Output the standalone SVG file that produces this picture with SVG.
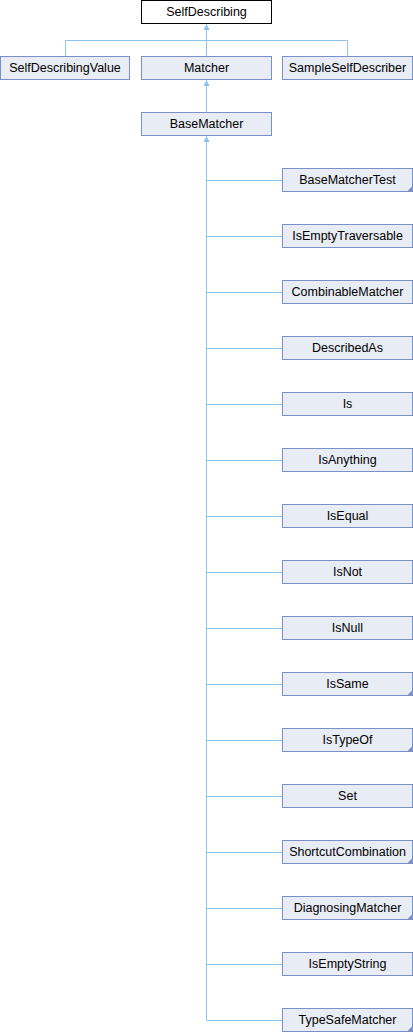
<svg xmlns="http://www.w3.org/2000/svg" width="413" height="1032" viewBox="0 0 413 1032">
<defs>
<style>
.box{fill:#e8ecf5;stroke:#7a90c8;stroke-width:1}
.root{fill:#ffffff;stroke:#000000;stroke-width:1}
.lbl{font-family:"Liberation Sans",Arial,sans-serif;font-size:12.5px;fill:#000;text-anchor:middle}
.edge{fill:none;stroke:#8cc4ea;stroke-width:1}
.arr{fill:#8cc4ea;stroke:none}
.corner{fill:#7a90c8;stroke:none}
</style>
</defs>
<rect width="413" height="1032" fill="#ffffff"/>
<g id="connectors">
<path class="edge" d="M206.5,24 V56.5 M65.5,56.5 V40.5 H347.5 V56.5"/>
<polygon class="arr" points="206.5,24 203.5,30 209.5,30"/>
<path class="edge" d="M206.5,80 V112.5"/>
<polygon class="arr" points="206.5,80 203.5,86 209.5,86"/>
<path class="edge" d="M206.5,136 V1020.5 M206.5,180.5 H282.5 M206.5,236.5 H282.5 M206.5,292.5 H282.5 M206.5,348.5 H282.5 M206.5,404.5 H282.5 M206.5,460.5 H282.5 M206.5,516.5 H282.5 M206.5,572.5 H282.5 M206.5,628.5 H282.5 M206.5,684.5 H282.5 M206.5,740.5 H282.5 M206.5,796.5 H282.5 M206.5,852.5 H282.5 M206.5,908.5 H282.5 M206.5,964.5 H282.5 M206.5,1020.5 H282.5"/>
<polygon class="arr" points="206.5,136 203.5,142 209.5,142"/>
</g>
<g id="SelfDescribing"><rect class="root" x="141.5" y="0.5" width="130" height="23"/><text class="lbl" x="206.5" y="16">SelfDescribing</text></g>
<g id="SelfDescribingValue"><rect class="box" x="0.5" y="56.5" width="129" height="23"/><text class="lbl" x="65" y="72">SelfDescribingValue</text></g>
<g id="Matcher"><rect class="box" x="141.5" y="56.5" width="130" height="23"/><text class="lbl" x="206.5" y="72">Matcher</text></g>
<g id="SampleSelfDescriber"><rect class="box" x="282.5" y="56.5" width="130" height="23"/><text class="lbl" x="347.5" y="72">SampleSelfDescriber</text></g>
<g id="BaseMatcher"><rect class="box" x="141.5" y="112.5" width="130" height="23"/><text class="lbl" x="206.5" y="128">BaseMatcher</text></g>
<g id="BaseMatcherTest"><rect class="box" x="282.5" y="168.5" width="130" height="23"/><text class="lbl" x="347.5" y="184">BaseMatcherTest</text><polygon class="corner" points="407,191.5 412.5,191.5 412.5,186"/></g>
<g id="IsEmptyTraversable"><rect class="box" x="282.5" y="224.5" width="130" height="23"/><text class="lbl" x="347.5" y="240">IsEmptyTraversable</text></g>
<g id="CombinableMatcher"><rect class="box" x="282.5" y="280.5" width="130" height="23"/><text class="lbl" x="347.5" y="296">CombinableMatcher</text></g>
<g id="DescribedAs"><rect class="box" x="282.5" y="336.5" width="130" height="23"/><text class="lbl" x="347.5" y="352">DescribedAs</text></g>
<g id="Is"><rect class="box" x="282.5" y="392.5" width="130" height="23"/><text class="lbl" x="347.5" y="408">Is</text></g>
<g id="IsAnything"><rect class="box" x="282.5" y="448.5" width="130" height="23"/><text class="lbl" x="347.5" y="464">IsAnything</text></g>
<g id="IsEqual"><rect class="box" x="282.5" y="504.5" width="130" height="23"/><text class="lbl" x="347.5" y="520">IsEqual</text></g>
<g id="IsNot"><rect class="box" x="282.5" y="560.5" width="130" height="23"/><text class="lbl" x="347.5" y="576">IsNot</text></g>
<g id="IsNull"><rect class="box" x="282.5" y="616.5" width="130" height="23"/><text class="lbl" x="347.5" y="632">IsNull</text></g>
<g id="IsSame"><rect class="box" x="282.5" y="672.5" width="130" height="23"/><text class="lbl" x="347.5" y="688">IsSame</text><polygon class="corner" points="407,695.5 412.5,695.5 412.5,690"/></g>
<g id="IsTypeOf"><rect class="box" x="282.5" y="728.5" width="130" height="23"/><text class="lbl" x="347.5" y="744">IsTypeOf</text><polygon class="corner" points="407,751.5 412.5,751.5 412.5,746"/></g>
<g id="Set"><rect class="box" x="282.5" y="784.5" width="130" height="23"/><text class="lbl" x="347.5" y="800">Set</text></g>
<g id="ShortcutCombination"><rect class="box" x="282.5" y="840.5" width="130" height="23"/><text class="lbl" x="347.5" y="856">ShortcutCombination</text><polygon class="corner" points="407,863.5 412.5,863.5 412.5,858"/></g>
<g id="DiagnosingMatcher"><rect class="box" x="282.5" y="896.5" width="130" height="23"/><text class="lbl" x="347.5" y="912">DiagnosingMatcher</text><polygon class="corner" points="407,919.5 412.5,919.5 412.5,914"/></g>
<g id="IsEmptyString"><rect class="box" x="282.5" y="952.5" width="130" height="23"/><text class="lbl" x="347.5" y="968">IsEmptyString</text></g>
<g id="TypeSafeMatcher"><rect class="box" x="282.5" y="1008.5" width="130" height="23"/><text class="lbl" x="347.5" y="1024">TypeSafeMatcher</text><polygon class="corner" points="407,1031.5 412.5,1031.5 412.5,1026"/></g>
</svg>
